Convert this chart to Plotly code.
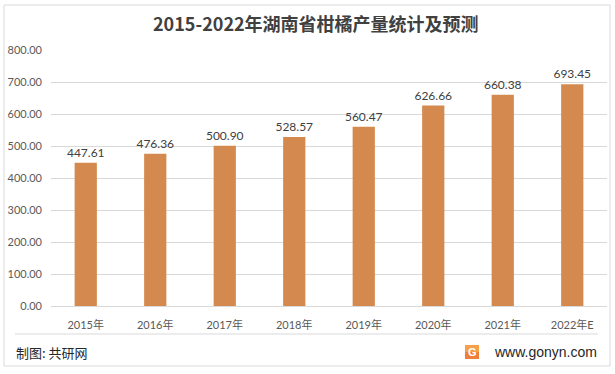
import plotly.graph_objects as go

categories = ["2015年", "2016年", "2017年", "2018年", "2019年", "2020年", "2021年", "2022年E"]
values = [447.61, 476.36, 500.90, 528.57, 560.47, 626.66, 660.38, 693.45]
title_text = "2015-2022年湖南省柑橘产量统计及预测"
source_text = "制图: 共研网"
site_text = "www.gonyn.com"

W, H = 615, 374
L, R, T, B = 51, 8, 50, 68
PW, PH = W - L - R, H - T - B


def px(x):
    return (x - L) / PW


def py(y):
    return (H - B - y) / PH


fig = go.Figure()
fig.add_trace(go.Bar(
    x=categories, y=values,
    marker=dict(color="#D48A4E", line=dict(width=0)),
    width=0.32,
    texttemplate="%{y:.2f}",
    textposition="outside",
    constraintext="none",
    textfont=dict(family="Lato, Noto Sans CJK SC", size=12, color="#404040"),
    cliponaxis=False,
    hoverinfo="skip",
))

grid = "#D9D9D9"
fig.update_layout(
    width=W, height=H,
    margin=dict(l=L, r=R, t=T, b=B),
    paper_bgcolor="white", plot_bgcolor="white",
    showlegend=False,
    xaxis=dict(
        showline=True, linecolor=grid, linewidth=1,
        showgrid=False, ticks="",
        tickfont=dict(family="Lato, Noto Sans CJK SC", size=11, color="#595959"),
        ticklabelstandoff=9,
    ),
    yaxis=dict(
        range=[0, 800.5], dtick=100, tickformat=".2f",
        showgrid=True, gridcolor=grid, gridwidth=1,
        zeroline=False, showline=False, ticks="",
        tickfont=dict(family="Lato, Noto Sans CJK SC", size=11, color="#595959"),
        ticklabelstandoff=8,
    ),
)

shapes = [
    dict(type="rect", xref="paper", yref="paper",
         x0=px(4), x1=px(610), y0=py(5), y1=py(366),
         line=dict(color=grid, width=1), fillcolor="rgba(0,0,0,0)"),
    dict(type="line", xref="paper", yref="paper",
         x0=px(15), x1=px(598), y0=py(334), y1=py(334),
         line=dict(color=grid, width=1)),
    dict(type="rect", xref="paper", yref="paper",
         x0=px(465), x1=px(479), y0=py(359), y1=py(345),
         line=dict(width=0), fillcolor="#F07F3A"),
    dict(type="rect", xref="paper", yref="paper",
         x0=px(465), x1=px(479), y0=py(352), y1=py(345),
         line=dict(width=0), fillcolor="#F6A04A"),
]
fig.update_layout(shapes=shapes)

annotations = [
    dict(text="<b>" + title_text + "</b>", xref="paper", yref="paper",
         x=px(316), y=py(23), xanchor="center", yanchor="middle", showarrow=False,
         font=dict(family="Noto Sans CJK SC", size=18, color="#404040")),
    dict(text=source_text, xref="paper", yref="paper",
         x=px(14), y=py(352), xanchor="left", yanchor="middle", showarrow=False,
         font=dict(family="Noto Sans CJK SC", size=13, color="#262626")),
    dict(text=site_text, xref="paper", yref="paper",
         x=px(599), y=py(352), xanchor="right", yanchor="middle", showarrow=False,
         font=dict(family="Liberation Sans", size=14, color="#262626")),
    dict(text="<b>G</b>", xref="paper", yref="paper",
         x=px(472), y=py(352), xanchor="center", yanchor="middle", showarrow=False,
         font=dict(family="Liberation Sans", size=11, color="white")),
]

# faint watermarks
wm = [(160, 22), (180, 130), (440, 105), (30, 275), (565, 75), (540, 345)]
for (wx, wy) in wm:
    annotations.append(dict(text="<b>共研网</b>", xref="paper", yref="paper",
                            x=px(wx), y=py(wy), showarrow=False, textangle=-12,
                            font=dict(family="Noto Sans CJK SC", size=34, color="rgba(0,0,0,0.022)")))
fig.update_layout(annotations=annotations)

fig.write_html("out.html", config={"displayModeBar": False},
               post_script="document.body.style.margin='0';document.body.style.overflow='hidden';")
